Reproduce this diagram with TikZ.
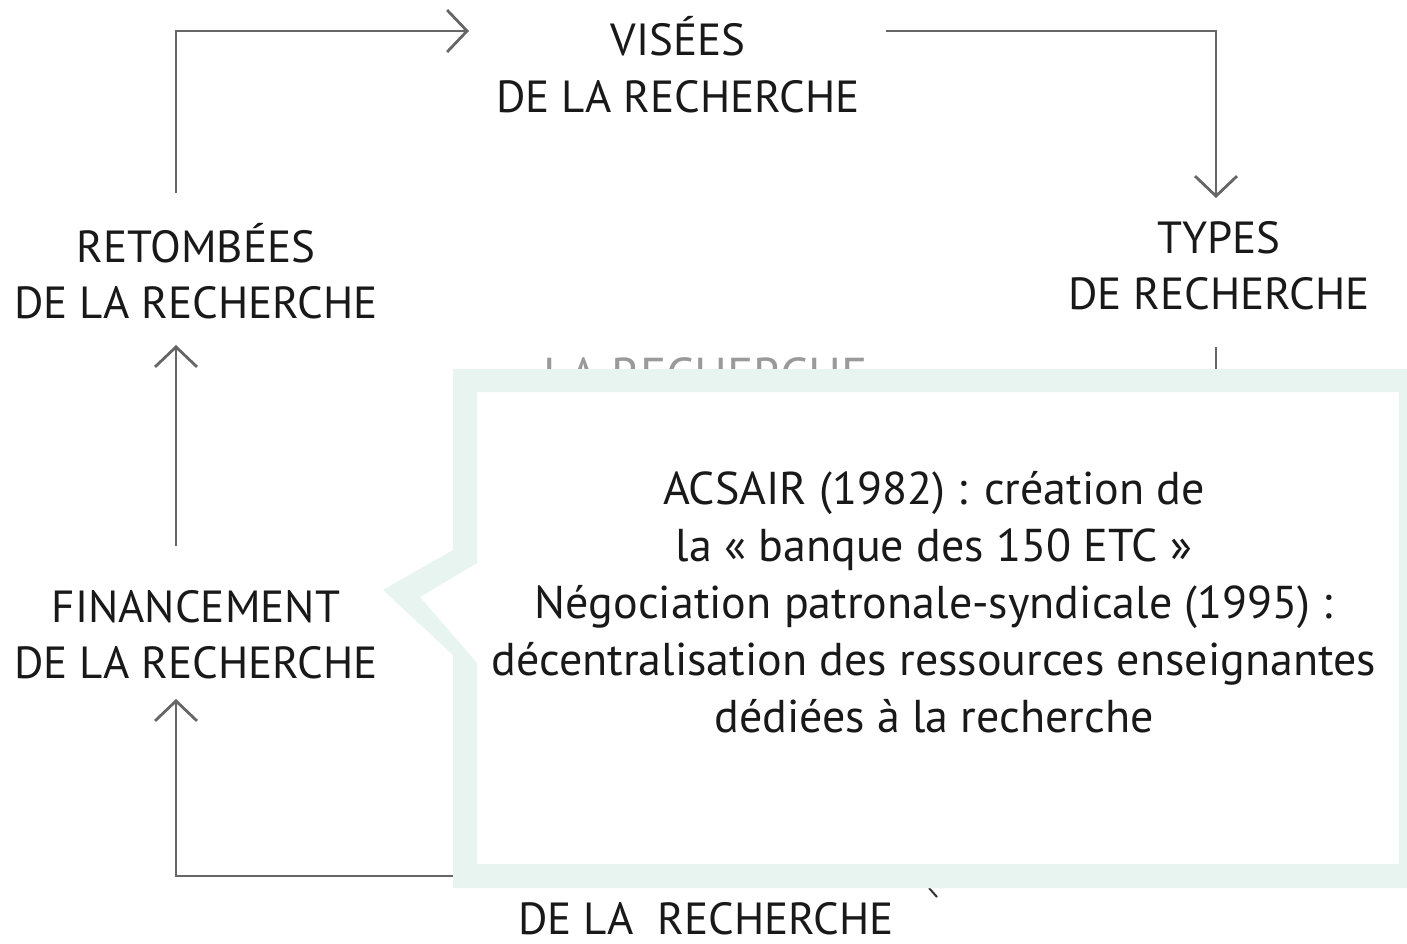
\documentclass[tikz,border=0pt]{standalone}
\usepackage{fontspec}
\setmainfont{PT Sans}
\usetikzlibrary{arrows.meta}
\definecolor{linegray}{HTML}{666666}
\definecolor{mint}{HTML}{E8F4F0}
\definecolor{hidgray}{HTML}{9A9A9A}
\begin{document}
\begin{tikzpicture}[x=1pt,y=-1pt,
  lbl/.style={align=center,font=\fontsize{45}{57}\selectfont,inner sep=0pt,text=black!90},
  calltext/.style={align=center,font=\fontsize{46}{57}\selectfont,inner sep=0pt,text=black!90},
  conn/.style={draw=linegray,line width=2.8pt,-{Straight Barb[length=20pt,width=42pt,line width=2.8pt]}},
  plain/.style={draw=linegray,line width=2.8pt}]
\useasboundingbox (0,0) rectangle (1407,943);
% labels
\node[lbl,anchor=base] (vis1) at (678,55) {VISÉES};
\node[lbl,anchor=base] (vis2) at (678,112) {DE LA RECHERCHE};
\node[lbl,anchor=base] (typ1) at (1219,253) {TYPES};
\node[lbl,anchor=base] (typ2) at (1219,309) {DE RECHERCHE};
\node[lbl,anchor=base] (ret1) at (196,262) {RETOMBÉES};
\node[lbl,anchor=base] (ret2) at (196,318) {DE LA RECHERCHE};
\node[lbl,anchor=base] (fin1) at (196,622) {FINANCEMENT};
\node[lbl,anchor=base] (fin2) at (196,678) {DE LA RECHERCHE};
\node[lbl,anchor=base,text depth=0pt] (bot) at (706,934) {DE LA\ \ RECHERCHE};
\node[lbl,anchor=base,text=hidgray,font=\fontsize{49}{57}\selectfont] (hid) at (706,392) {LA RECHERCHE};
% connector corners
\coordinate (c1) at (176,193);
\coordinate (c2) at (176,31);
\coordinate (t1) at (469,31);
\coordinate (c3) at (886,31);
\coordinate (c4) at (1216,31);
\coordinate (t2) at (1216,198);
\coordinate (c5) at (1216,347);
\coordinate (c6) at (1216,380);
\coordinate (c7) at (176,546);
\coordinate (t3) at (176,345);
\coordinate (c8) at (470,876);
\coordinate (c9) at (176,876);
\coordinate (t4) at (176,699);
\coordinate (k1) at (929,888);
\coordinate (k2) at (937,897);
\draw[conn] (c1) -- (c2) -- (t1);
\draw[conn] (c3) -- (c4) -- (t2);
\draw[plain] (c5) -- (c6);
\draw[conn] (c7) -- (t3);
\draw[conn] (c8) -- (c9) -- (t4);
\draw[draw=black!80,line width=2pt] (k1) -- (k2);
% callout box
\fill[white] (453,369) -- (1407,369) -- (1407,888) -- (453,888) -- (453,655) -- (383,590) -- (453,550) -- cycle;
\fill[mint,even odd rule]
  (453,369) -- (1407,369) -- (1407,888) -- (453,888) -- (453,655) -- (383,590) -- (453,550) -- cycle
  (477,392) -- (1399,392) -- (1399,864) -- (477,864) -- (477,663) -- (420,597) -- (477,563) -- cycle;
\node[calltext,anchor=center] (call) at (934,602) {ACSAIR (1982) : création de\\la « banque des 150 ETC »\\Négociation patronale-syndicale (1995) :\\décentralisation des ressources enseignantes\\dédiées à la recherche};
\end{tikzpicture}
\end{document}
